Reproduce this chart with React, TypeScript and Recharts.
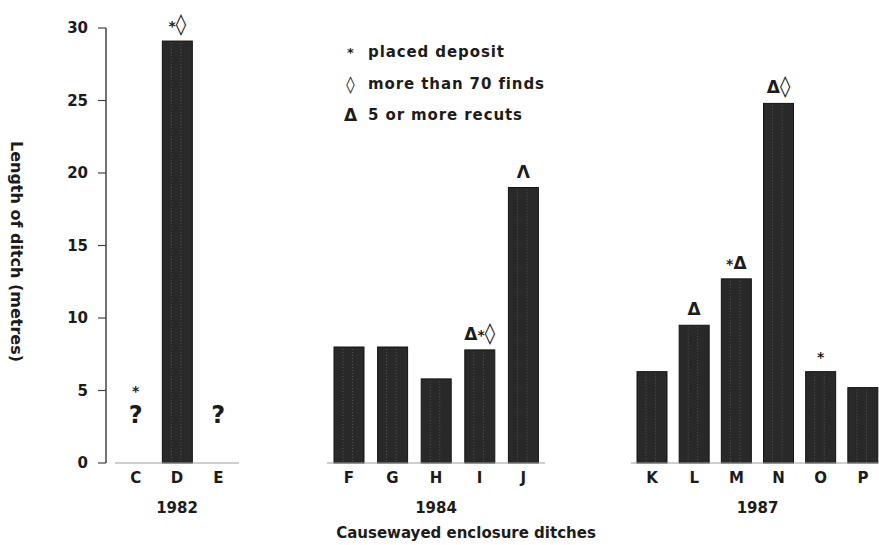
import React from 'react';
import { BarChart, ComposedChart, Bar, Scatter, XAxis, YAxis, LabelList, Label } from 'recharts';

// ditch lengths (metres), one array per excavation season
const ditches1982 = ['C', 'D', 'E'];
const lengths1982 = [null, 29.1, null];
const notes1982 = ['*', '*◊', ''];
const unknown1982 = [3.4, null, 3.4];

const ditches1984 = ['F', 'G', 'H', 'I', 'J'];
const lengths1984 = [8, 8, 5.8, 7.8, 19];
const notes1984 = ['', '', '', 'Δ*◊', 'Λ'];

const ditches1987 = ['K', 'L', 'M', 'N', 'O', 'P'];
const lengths1987 = [6.3, 9.5, 12.7, 24.8, 6.3, 5.2];
const notes1987 = ['', 'Δ', '*Δ', 'Δ◊', '*', ''];

const yTicks = [0, 5, 10, 15, 20, 25, 30];

const legendSymbols = ['*', '◊', 'Δ'];
const legendLabels = ['placed deposit', 'more than 70 finds', '5 or more recuts'];

const FONT = '"DejaVu Sans", "Liberation Sans", sans-serif';
const INK = '#1c1c1c';

const buildRows = (names: string[], lengths: (number | null)[], notes: string[], unknown?: (number | null)[]) =>
    names.map((ditch, i) => ({
        ditch,
        length: lengths[i],
        note: notes[i],
        unknown: unknown ? unknown[i] : null,
    }));

const rows1982 = buildRows(ditches1982, lengths1982, notes1982, unknown1982);
const rows1984 = buildRows(ditches1984, lengths1984, notes1984);
const rows1987 = buildRows(ditches1987, lengths1987, notes1987);

const glyphSize = (c: string) => (c === '*' ? 14 : c === '◊' ? 21 : 17);

const Marks = ({ x, y, text }: { x: number; y: number; text: string }) => (
    <text x={x} y={y} textAnchor="middle" fill={INK} fontFamily={FONT} fontWeight="bold">
        {text.split('').map((c, i) => (
            <tspan key={i} fontSize={glyphSize(c)}>{c}</tspan>
        ))}
    </text>
);

// bar drawn as dark rect with the faint screen lines of the print
const TexturedBar = (props: any) => {
    const { x, y, width, height } = props;
    if (!height || height <= 0) return <g />;
    return (
        <g>
            <rect x={x} y={y} width={width} height={height} fill="#292929" stroke="#141414" strokeWidth={1} />
            <line x1={x + width * 0.3} x2={x + width * 0.3} y1={y + 2} y2={y + height} stroke="#666" strokeWidth={1} strokeDasharray="1 2" opacity={0.7} />
            <line x1={x + width * 0.62} x2={x + width * 0.62} y1={y + 2} y2={y + height} stroke="#666" strokeWidth={1} strokeDasharray="1 2" opacity={0.7} />
        </g>
    );
};

const noteLabel = (props: any) => {
    const { x, y, width, value } = props;
    if (!value) return null;
    return <Marks x={x + width / 2} y={y - 10} text={value} />;
};

const QuestionMark = (props: any) => {
    const { cx, cy, payload } = props;
    if (payload.unknown == null || cx == null || cy == null) return <g />;
    return (
        <g>
            {payload.note ? <Marks x={cx} y={cy - 18} text={payload.note} /> : null}
            <text x={cx} y={cy + 9} textAnchor="middle" fontSize={24} fontWeight="bold" fontFamily={FONT} fill={INK}>?</text>
        </g>
    );
};

const groupLabel = (year: string) => (props: any) => {
    const { x, y, width } = props.viewBox;
    return (
        <text x={x + width / 2} y={y + 50} textAnchor="middle" fontSize={15} fontFamily={FONT} fontWeight="bold" fill={INK}>
            {year}
        </text>
    );
};

const CHART_H = 545;
const MARGIN = { top: 28, right: 0, bottom: 52, left: 0 };
const tickStyle = { fontSize: 15, fontWeight: 'bold', fontFamily: FONT, fill: INK };

const Panel = ({ rows, left, width, year }: any) => (
    <div style={{ position: 'absolute', left, top: 0 }}>
        <ComposedChart width={width} height={CHART_H} data={rows} margin={MARGIN}>
            <XAxis
                dataKey="ditch"
                interval={0}
                height={30}
                tickLine={false}
                tickMargin={3}
                axisLine={{ stroke: '#a0a0a0', strokeWidth: 1.2 }}
                tick={tickStyle}
            >
                <Label content={groupLabel(year)} />
            </XAxis>
            <YAxis hide domain={[0, 30]} ticks={yTicks} />
            <Bar dataKey="length" barSize={30} shape={TexturedBar} isAnimationActive={false}>
                <LabelList dataKey="note" content={noteLabel} />
            </Bar>
            <Scatter dataKey="unknown" shape={QuestionMark} isAnimationActive={false} />
        </ComposedChart>
    </div>
);

const yAxisLabel = (props: any) => {
    const { y, height } = props.viewBox;
    const cx = 16;
    const cy = y + height / 2 + 6;
    return (
        <text
            x={cx}
            y={cy}
            transform={`rotate(90, ${cx}, ${cy})`}
            textAnchor="middle"
            dominantBaseline="central"
            fontSize={16}
            fontWeight="bold"
            fontFamily={FONT}
            fill={INK}
        >
            Length of ditch (metres)
        </text>
    );
};

export default function App() {
    return (
        <div style={{ position: 'absolute', left: 0, top: 0, width: 879, height: 545, overflow: 'hidden', background: '#fff' }}>
            <div style={{ position: 'absolute', left: 0, top: 0 }}>
                <BarChart width={116} height={CHART_H} data={[{ v: 0 }]} margin={{ top: 28, right: 4, bottom: 82, left: 0 }}>
                    <XAxis hide />
                    <YAxis
                        width={106}
                        domain={[0, 30]}
                        ticks={yTicks}
                        interval={0}
                        tickSize={8}
                        tickMargin={10}
                        axisLine={{ stroke: '#444', strokeWidth: 1.5 }}
                        tickLine={{ stroke: '#444', strokeWidth: 1.2 }}
                        tick={tickStyle}
                    >
                        <Label content={yAxisLabel} />
                    </YAxis>
                    <Bar dataKey="v" isAnimationActive={false} />
                </BarChart>
            </div>

            <Panel rows={rows1982} left={115} width={124} year="1982" />
            <Panel rows={rows1984} left={327} width={218} year="1984" />
            <Panel rows={rows1987} left={631} width={253} year="1987" />

            <div style={{ position: 'absolute', left: 316, top: 523, width: 300, textAlign: 'center', fontFamily: FONT, fontWeight: 'bold', fontSize: 15, color: INK, lineHeight: '20px' }}>
                Causewayed enclosure ditches
            </div>

            <div style={{ position: 'absolute', left: 333, top: 37, fontFamily: FONT, fontWeight: 'bold', fontSize: 15, color: INK, lineHeight: '31.5px' }}>
                {legendLabels.map((label, i) => (
                    <div key={label} style={{ display: 'flex' }}>
                        <span style={{ width: 35, textAlign: 'center', fontSize: legendSymbols[i] === '*' ? 13 : 17 }}>{legendSymbols[i]}</span>
                        <span style={{ letterSpacing: 0.9 }}>{label}</span>
                    </div>
                ))}
            </div>
        </div>
    );
}
